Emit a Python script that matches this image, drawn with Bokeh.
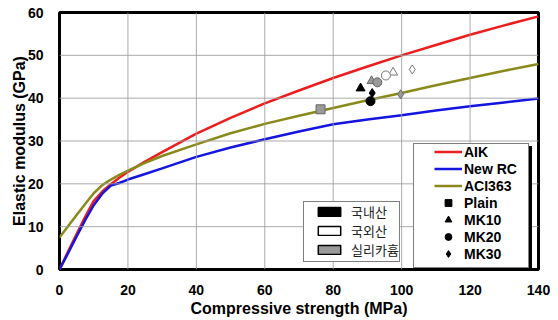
from bokeh.plotting import figure
from bokeh.models import Legend, LegendItem
from bokeh.transform import factor_mark
from bokeh.embed import file_html
from bokeh.resources import INLINE

# ---- data ----
strength = [0, 2.5, 5, 7.5, 10, 12.5, 15, 17.5, 20, 25, 30, 40, 50, 60, 70, 80, 90, 100, 110, 120, 130, 140]
aik = [0, 4.2, 8.3, 12.3, 16.0, 18.2, 19.9, 21.4, 22.8, 25.2, 27.4, 31.7, 35.4, 38.8, 41.8, 44.7, 47.4, 50.0, 52.4, 54.8, 57.0, 59.1]
new_rc = [0, 3.8, 7.7, 11.5, 15.0, 17.7, 19.6, 20.2, 21.0, 22.3, 23.6, 26.3, 28.5, 30.4, 32.2, 33.9, 35.0, 36.0, 37.1, 38.1, 39.0, 39.9]
aci363 = [7.5, 10.1, 12.7, 15.3, 17.8, 19.7, 21.0, 22.1, 23.1, 24.9, 26.5, 29.2, 31.8, 34.0, 35.9, 37.7, 39.5, 41.2, 43.0, 44.7, 46.4, 48.0]

mixes = ["Plain", "MK10", "MK20", "MK30"]
mix_markers = ["square", "triangle", "circle", "diamond"]

dom_mix = ["MK10", "MK20", "MK30"]          # 국내산 (black)
dom_strength = [88.0, 90.9, 91.4]
dom_modulus = [42.3, 39.3, 41.2]

for_mix = ["MK10", "MK20", "MK30"]          # 국외산 (white)
for_strength = [97.5, 95.4, 103.1]
for_modulus = [46.0, 45.3, 46.7]

sf_mix = ["Plain", "MK10", "MK20", "MK30"]  # 실리카흄 (gray)
sf_strength = [76.3, 91.2, 92.9, 99.7]
sf_modulus = [37.4, 44.0, 43.7, 40.9]

origin_labels = ["국내산", "국외산", "실리카흄"]
x_ticks = [0, 20, 40, 60, 80, 100, 120, 140]
y_ticks = [0, 10, 20, 30, 40, 50, 60]

FONT = "Liberation Sans"

p = figure(width=558, height=320, x_range=(0, 140), y_range=(0, 60),
           output_backend="svg", toolbar_location=None,
           min_border_left=59, min_border_right=20, min_border_top=12, min_border_bottom=51)
p.outline_line_color = "black"
p.outline_line_width = 3

for ax in (p.xaxis, p.yaxis):
    ax.axis_line_color = None
    ax.major_tick_line_color = None
    ax.minor_tick_line_color = None
    ax.major_label_text_font = FONT
    ax.major_label_text_font_style = "bold"
    ax.major_label_text_font_size = "14px"
    ax.major_label_text_color = "black"
    ax.axis_label_text_font = FONT
    ax.axis_label_text_font_style = "bold"
    ax.axis_label_text_font_size = "16px"
    ax.axis_label_text_color = "black"
p.xaxis.ticker = x_ticks
p.yaxis.ticker = y_ticks
p.xaxis.axis_label = "Compressive strength (MPa)"
p.yaxis.axis_label = "Elastic modulus (GPa)"
p.xaxis.major_label_standoff = 9
p.xaxis.axis_label_standoff = 2
p.yaxis.major_label_standoff = 10
p.yaxis.axis_label_standoff = -3

p.xgrid.visible = False
p.ygrid.visible = False

RED, BLUE, OLIVE = "#ee1c1c", "#1515e0", "#8a8a1c"
r_aik = p.line(strength, aik, line_color=RED, line_width=2.5)
r_rc = p.line(strength, new_rc, line_color=BLUE, line_width=2.5)
r_aci = p.line(strength, aci363, line_color=OLIVE, line_width=2.5)

# grid lines at the tick positions, as ordinary line glyphs
GRID = dict(line_color="#9c9c9c", line_width=1, line_alpha=0.85)
for t in x_ticks[1:-1]:
    p.line([t, t], [y_ticks[0], y_ticks[-1]], **GRID)
for t in y_ticks[1:-1]:
    p.line([x_ticks[0], x_ticks[-1]], [t, t], **GRID)

mk = factor_mark("mix", mix_markers, mixes)
p.scatter("x", "y", source=dict(x=sf_strength, y=sf_modulus, mix=sf_mix), marker=mk,
          size=9, fill_color="#9a9a9a", line_color="#666666", line_width=1)
p.scatter("x", "y", source=dict(x=for_strength, y=for_modulus, mix=for_mix), marker=mk,
          size=9, fill_color="white", line_color="#777777", line_width=1)
p.scatter("x", "y", source=dict(x=dom_strength, y=dom_modulus, mix=dom_mix), marker=mk,
          size=9, fill_color="black", line_color="black", line_width=1)

EXTRA = 9  # legend internal width beyond label_width + glyph_width


def box_legend(loc, w, h, bg, border_color, border_width):
    dummy = p.line(strength[:2], aik[:2], line_alpha=0, visible=False)
    leg = Legend(items=[LegendItem(label=" ", renderers=[dummy])], location=loc,
                 padding=0, margin=0, spacing=0, glyph_width=1, glyph_height=h,
                 label_height=h, label_width=w - 1 - EXTRA, label_standoff=0,
                 label_text_font_size="1px", inactive_fill_alpha=0,
                 background_fill_color=bg, background_fill_alpha=1,
                 border_line_color=border_color, border_line_width=border_width)
    p.add_layout(leg)


# right legend: shadow + box + content
box_legend((357, -2), 123, 123, "black", "black", 1)
box_legend((354, 1), 123, 123, "white", "black", 1.5)

items = [
    LegendItem(label="AIK", renderers=[r_aik]),
    LegendItem(label="New RC", renderers=[r_rc]),
    LegendItem(label="ACI363", renderers=[r_aci]),
]
for m, name in zip(mix_markers, mixes):
    d = p.scatter(sf_strength[:1], sf_modulus[:1], marker=m, fill_color="black",
                  line_color="black", visible=False)
    items.append(LegendItem(label=name, renderers=[d]))
leg = Legend(items=items, location=(375, 7), padding=0, margin=0, spacing=0,
             glyph_width=28, glyph_height=17, label_height=14, label_standoff=2,
             label_text_font=FONT, label_text_font_style="bold", label_text_font_size="14px",
             label_text_color="black", background_fill_alpha=0, border_line_color=None,
             inactive_fill_alpha=0)
p.add_layout(leg)

# Korean legend: box + content
box_legend((244, 7), 104, 59, "white", "black", 1.5)
kitems = []
for lab, fc in zip(origin_labels, ["black", "white", "#9a9a9a"]):
    d = p.quad(left=sf_strength[:1], right=sf_strength[1:2], top=sf_modulus[:1],
               bottom=sf_modulus[1:2], fill_color=fc, line_color="black", line_width=1.5,
               visible=False)
    kitems.append(LegendItem(label=lab, renderers=[d]))
kleg = Legend(items=kitems, location=(256, 10), padding=0, margin=0, spacing=-6,
              glyph_width=28, glyph_height=11, label_height=14, label_standoff=8,
              label_text_font="Noto Sans CJK KR", label_text_font_size="13px",
              label_text_color="#222222", background_fill_alpha=0, border_line_color=None,
              inactive_fill_alpha=0)
p.add_layout(kleg)

open("out.html", "w").write(file_html(p, INLINE))
